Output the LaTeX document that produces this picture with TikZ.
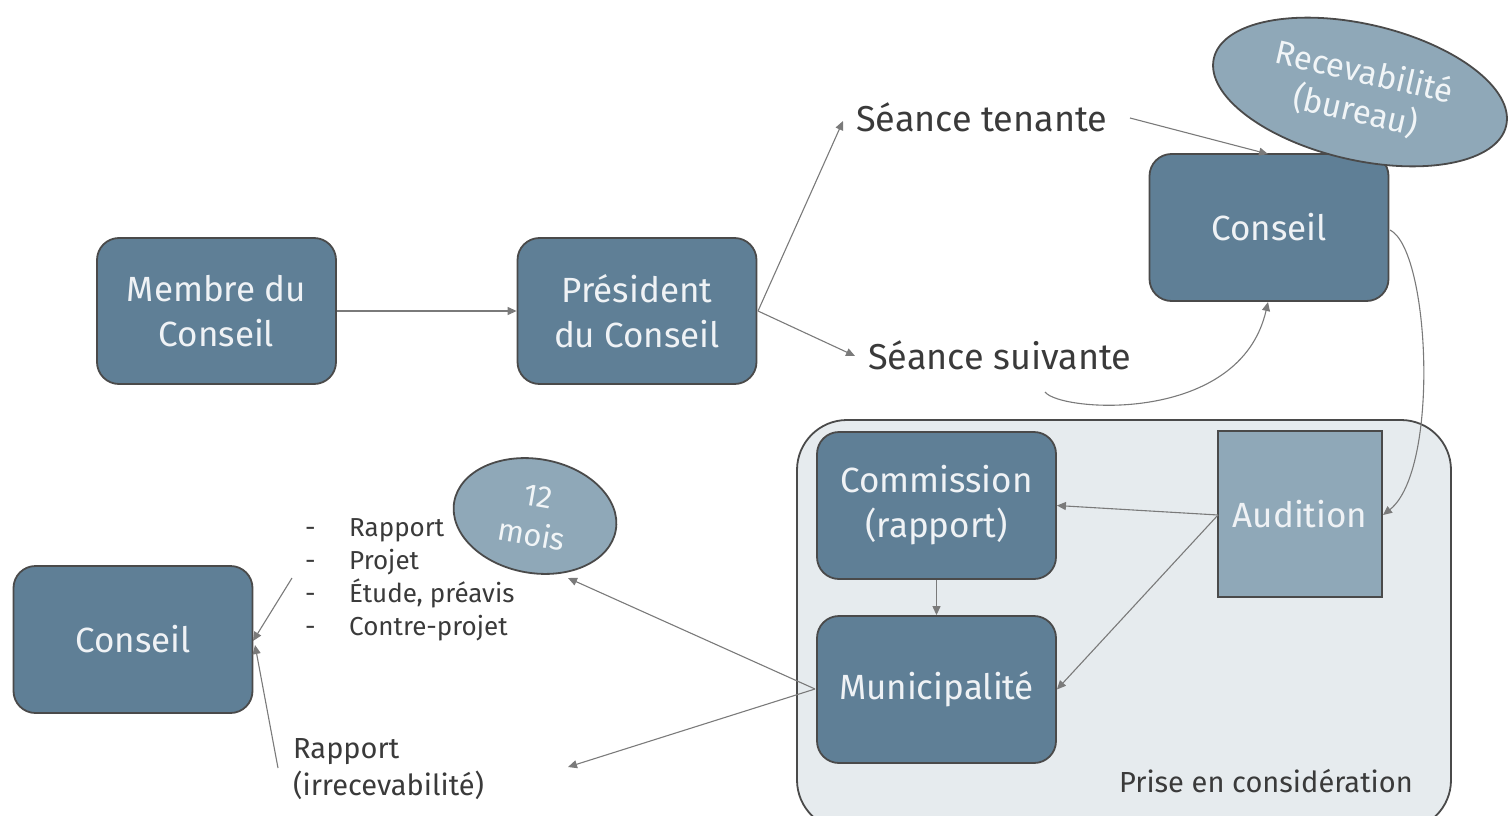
\documentclass[tikz,border=0pt]{standalone}
\usepackage{fontspec}
\setmainfont{Fira Sans}
\usetikzlibrary{arrows.meta,shapes.geometric}
\definecolor{boxblue}{HTML}{5F7F96}
\definecolor{lightblue}{HTML}{8FA8B8}
\definecolor{panel}{HTML}{E6EBEE}
\definecolor{edge}{HTML}{4A4A4A}
\definecolor{arrowgray}{HTML}{7A7A7A}
\definecolor{txt}{HTML}{3A3A3A}
\tikzset{
  bigbox/.style={draw=edge, line width=1.8pt, fill=boxblue, rounded corners=22pt,
    minimum width=239pt, minimum height=146pt, text=white!90!boxblue,
    font=\fontsize{35}{45}\selectfont, align=center, inner sep=0pt},
  lbl/.style={text=txt, inner sep=0pt},
  conn/.style={draw=arrowgray, line width=1.1pt, -{Triangle[length=9pt,width=8pt]}},
  oval/.style={ellipse, draw=edge, line width=1.8pt, fill=lightblue, inner sep=0pt},
}
\begin{document}
\begin{tikzpicture}[x=1pt,y=-1pt]
\useasboundingbox (0,0) rectangle (1509,816);
% container
\draw[draw=edge, line width=1.8pt, fill=panel, rounded corners=50pt] (797,420) rectangle (1451,830);
\node[lbl, anchor=east, font=\fontsize{29}{34}\selectfont] (prise) at (1413,781) {Prise en considération};

% boxes
\node[bigbox] (membre) at (216.5,311) {Membre du\\Conseil};
\node[bigbox] (pres) at (637,311) {Président\\du Conseil};
\node[bigbox, minimum height=147pt] (conseilA) at (1269,227.5) {Conseil};
\node[bigbox, minimum height=147pt] (commission) at (936.5,505.5) {Commission\\(rapport)};
\node[bigbox, minimum height=147pt] (muni) at (936.5,689.5) {Municipalité};
\node[bigbox, minimum height=147pt] (conseilB) at (133,639.5) {Conseil};
\node[draw=edge, line width=1.8pt, fill=lightblue, minimum width=164pt, minimum height=166pt,
  text=white!90!boxblue, font=\fontsize{35}{45}\selectfont, inner sep=0pt] (audition) at (1300,514) {Audition};

% ellipses
\node[oval, minimum width=300pt, minimum height=136pt, rotate=-13,
  text=white!88!lightblue, font=\fontsize{33}{40}\selectfont, align=center] (recev) at (1360,92) {Recevabilité\\(bureau)};
\node[oval, minimum width=164pt, minimum height=114pt, rotate=-10,
  text=white!88!lightblue, font=\fontsize{31}{39}\selectfont, align=center] (mois) at (535,516) {12\\mois};

% labels
\node[lbl, anchor=west, font=\fontsize{36}{42}\selectfont] (tenante) at (856,117) {Séance tenante};
\node[lbl, anchor=west, font=\fontsize{36}{42}\selectfont] (suivante) at (868,355) {Séance suivante};
\node[lbl, anchor=north west, align=left, font=\fontsize{26}{33}\selectfont] (liste) at (305,518)
  {\makebox[44pt][l]{-}Rapport\\\makebox[44pt][l]{-}Projet\\\makebox[44pt][l]{-}Étude, préavis\\\makebox[44pt][l]{-}Contre-projet};
\node[lbl, anchor=north west, align=left, font=\fontsize{29}{37}\selectfont] (irrec) at (293,738)
  {Rapport\\(irrecevabilité)};

% coordinates for free ends
\coordinate (presR) at (758,311);
\coordinate (tenTip) at (843,121);
\coordinate (suiTip) at (855,356);
\coordinate (tenEnd) at (1130,118);
\coordinate (cATop) at (1268,154);
\coordinate (suiCurve) at (1045,392);
\coordinate (cABot) at (1268,302);
\coordinate (cARight) at (1390,230);
\coordinate (audRight) at (1383,515);
\coordinate (audLeft) at (1218,515);
\coordinate (muniL) at (815,689);
\coordinate (moisTip) at (568,578);
\coordinate (irrTip) at (568,767);
\coordinate (listEnd) at (292,578);
\coordinate (irrEnd) at (278,768);
\coordinate (cBR1) at (253,641);
\coordinate (cBR2) at (255,645);

% connectors
\draw[conn] (membre.east) -- (pres.west);
\draw[conn] (presR) -- (tenTip);
\draw[conn] (presR) -- (suiTip);
\draw[conn] (tenEnd) -- (cATop);
\draw[conn] (suiCurve) .. controls (1060,412) and (1240,425) .. (cABot);
\draw[conn] (cARight) .. controls (1430,250) and (1440,470) .. (audRight);
\draw[conn] (audLeft) -- (commission.east);
\draw[conn] (audLeft) -- (muni.east);
\draw[conn] (commission.south) -- (muni.north);
\draw[conn] (muniL) -- (moisTip);
\draw[conn] (muniL) -- (irrTip);
\draw[conn] (listEnd) -- (cBR1);
\draw[conn] (irrEnd) -- (cBR2);
\end{tikzpicture}
\end{document}
